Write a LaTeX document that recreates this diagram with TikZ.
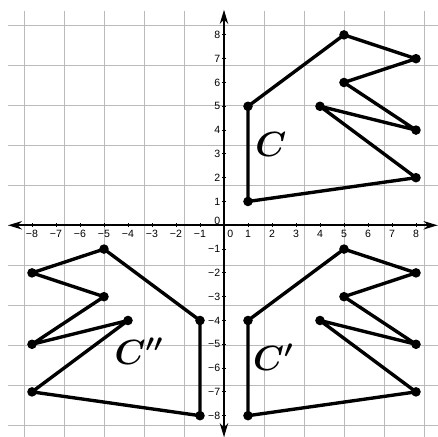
\documentclass[tikz,border=0pt]{standalone}
\usepackage{fontspec}
\newfontfamily\ticksf{Liberation Sans}
\usetikzlibrary{arrows.meta}
\tikzset{
  gridline/.style={draw=black!27, line width=0.55pt},
  axisline/.style={line width=1.2pt, {Stealth[length=10pt,width=6pt]}-{Stealth[length=10pt,width=6pt]}},
  shapeline/.style={line width=2.4pt, line join=round},
  ptdot/.style={circle, fill=black, inner sep=0pt, minimum size=6.8pt},
  ticklab/.style={font=\ticksf\fontsize{7.5}{8}\selectfont, inner sep=0.5pt},
  biglab/.style={font=\fontsize{26}{30}\selectfont\boldmath}
}
\begin{document}
\begin{tikzpicture}[x=0.6cm,y=0.595cm]
\useasboundingbox (-9.333,-8.895) rectangle (8.917,9.466);
\begin{scope}
\clip (-9.333,-8.895) rectangle (8.917,9.466);
\draw[gridline] (-9,-9) grid (9,9);
\end{scope}
% axes
\coordinate (xl) at (-9,0);
\coordinate (xr) at (8.9,0);
\coordinate (yb) at (0,-8.9);
\coordinate (yt) at (0,9.05);
\draw[axisline] (xl) -- (xr);
\draw[axisline] (yb) -- (yt);
% ticks and labels
\foreach \i in {-8,...,-1,1,2,...,8} {
  \draw[line width=0.6pt] (\i,-0.08) -- (\i,0.08);
  \draw[line width=0.6pt] (-0.08,\i) -- (0.08,\i);
}
\foreach \i in {1,...,8} {
  \node[ticklab] (xp\i) at (\i,-0.36) {\i};
  \node[ticklab] (xm\i) at (-\i,-0.36) {\char"2212\relax\i};
  \node[ticklab, anchor=east] (yp\i) at (-0.12,\i) {\i};
  \node[ticklab, anchor=east] (ym\i) at (-0.12,-\i) {\char"2212\relax\i};
}
\node[ticklab] (x0) at (0.26,-0.36) {0};
\node[ticklab, anchor=east] (y0) at (-0.12,0.2) {0};
% shape C
\coordinate (a1) at (1,1);
\coordinate (a2) at (1,5);
\coordinate (a3) at (5,8);
\coordinate (a4) at (8,7);
\coordinate (a5) at (5,6);
\coordinate (a6) at (8,4);
\coordinate (a7) at (4,5);
\coordinate (a8) at (8,2);
\draw[shapeline] (a1) -- (a2) -- (a3) -- (a4) -- (a5) -- (a6) -- (a7) -- (a8) -- cycle;
% shape C'
\coordinate (b1) at (1,-4);
\coordinate (b2) at (5,-1);
\coordinate (b3) at (8,-2);
\coordinate (b4) at (5,-3);
\coordinate (b5) at (8,-5);
\coordinate (b6) at (4,-4);
\coordinate (b7) at (8,-7);
\coordinate (b8) at (1,-8);
\draw[shapeline] (b1) -- (b2) -- (b3) -- (b4) -- (b5) -- (b6) -- (b7) -- (b8) -- cycle;
% shape C''
\coordinate (c1) at (-1,-4);
\coordinate (c2) at (-5,-1);
\coordinate (c3) at (-8,-2);
\coordinate (c4) at (-5,-3);
\coordinate (c5) at (-8,-5);
\coordinate (c6) at (-4,-4);
\coordinate (c7) at (-8,-7);
\coordinate (c8) at (-1,-8);
\draw[shapeline] (c1) -- (c2) -- (c3) -- (c4) -- (c5) -- (c6) -- (c7) -- (c8) -- cycle;
% dots
\foreach \s in {a,b,c} {
  \foreach \k in {1,...,8} {
    \node[ptdot] (d\s\k) at (\s\k) {};
  }
}
% labels
\node[biglab] (lc) at (1.95,3.4) {$C$};
\node[biglab] (lcp) at (2.05,-5.55) {$C'$};
\node[biglab] (lcpp) at (-3.55,-5.3) {$C''$};
\end{tikzpicture}
\end{document}
